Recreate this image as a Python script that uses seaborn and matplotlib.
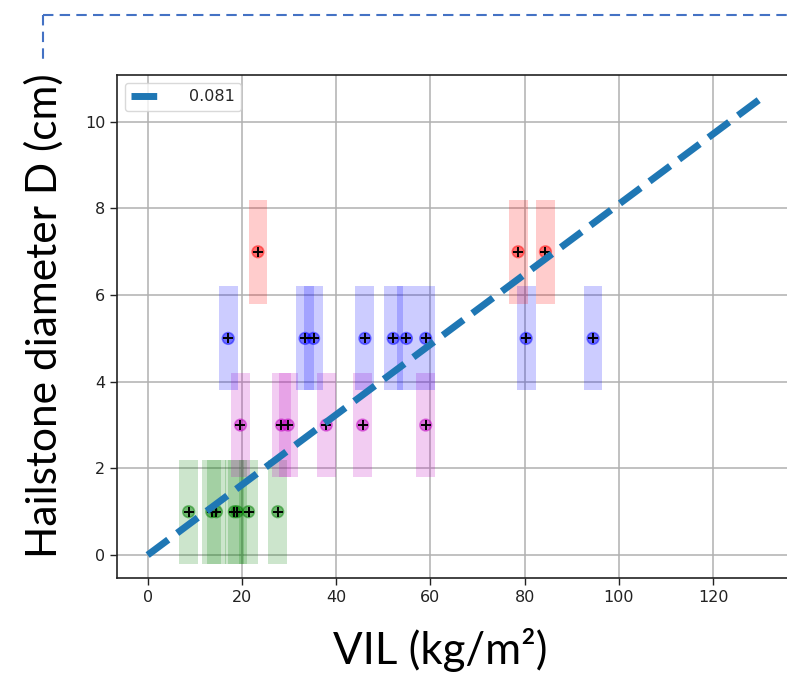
import matplotlib
matplotlib.use("Agg")
import matplotlib.pyplot as plt
from matplotlib.lines import Line2D
import pandas as pd
import seaborn as sns

# VIL (kg/m^2) of each hail report, grouped by reported hailstone diameter (cm)
vil_d1 = [8.7, 13.6, 14.6, 18.4, 19.0, 21.4, 27.6]
vil_d3 = [19.7, 28.4, 29.8, 37.9, 45.6, 59.0]
vil_d5 = [17.1, 33.4, 35.2, 46.1, 52.1, 54.9, 59.0, 80.3, 94.5]
vil_d7 = [23.4, 78.6, 84.4]
diameters = [1, 3, 5, 7]
diameter_colors = ["#008000", "#bf00bf", "#0000ff", "#ff0000"]

# half-height of the diameter uncertainty band (cm) and band width (kg/m^2)
diameter_spread = 1.2
vil_band = 4.0

# linear fit D = slope * VIL
slope = 0.081
fit_vil = [0, 130]
fit_d = [slope * v for v in fit_vil]

x_ticks = [0, 20, 40, 60, 80, 100, 120]
y_ticks = [0, 2, 4, 6, 8, 10]

groups = [vil_d1, vil_d3, vil_d5, vil_d7]
df = pd.DataFrame(
    [(v, d) for vals, d in zip(groups, diameters) for v in vals],
    columns=["vil", "diameter"],
)
palette = dict(zip(diameters, diameter_colors))

sns.set_theme(style="ticks", color_codes=False)
plt.rcParams["font.family"] = ["DejaVu Sans"]

W, H = 787, 677
fig = plt.figure(figsize=(W / 100, H / 100), dpi=100)
fig.patch.set_facecolor("white")

ax = fig.add_axes([117 / W, 1 - 578 / H, (791 - 117) / W, (578 - 75) / H])
ax.set_facecolor("white")

# shaded uncertainty bands behind each report
for vals, d, c in zip(groups, diameters, diameter_colors):
    ax.bar(vals, height=2 * diameter_spread, bottom=d - diameter_spread,
           width=vil_band, color=c, alpha=0.2, linewidth=0, zorder=2)

# report markers: translucent dot with a black cross
sns.scatterplot(data=df, x="vil", y="diameter", hue="diameter", palette=palette,
                s=70, alpha=0.45, edgecolor="face", linewidth=1.2,
                legend=False, ax=ax, zorder=3)
sns.scatterplot(data=df, x="vil", y="diameter", color="k", marker="+",
                s=45, linewidth=1.4, legend=False, ax=ax, zorder=4)

# fitted line
sns.lineplot(x=fit_vil, y=fit_d, color="#1f77b4", linewidth=5, linestyle="--",
             label=f"{slope}", ax=ax, zorder=5)

ax.set_xlim(-6.5, 136.5)
ax.set_ylim(-0.53, 11.08)
ax.set_xticks(x_ticks)
ax.set_yticks(y_ticks)
ax.tick_params(labelsize=11.5, colors="#222222", length=5, width=1.0)
ax.grid(True, color="#b0b0b0", linewidth=1.1, zorder=0)
ax.set_axisbelow(True)
for side in ["left", "bottom", "top", "right"]:
    ax.spines[side].set_color("#222222")
    ax.spines[side].set_linewidth(1.2)
ax.set_xlabel("")
ax.set_ylabel("")

leg = ax.legend(loc="upper left", fontsize=11.5, handletextpad=1.6,
                handlelength=2.0, frameon=True, fancybox=True,
                borderaxespad=0.5)
leg.get_frame().set_edgecolor("#d0d0d0")

# dashed frame around the figure panel
frame_kw = dict(color="#4472c4", linewidth=1.5, linestyle=(0, (5, 3)),
                transform=fig.transFigure)
fig.add_artist(Line2D([43 / W, 1.0], [1 - 15 / H, 1 - 15 / H], **frame_kw))
fig.add_artist(Line2D([43 / W, 43 / W], [1 - 15 / H, 1 - 64 / H], **frame_kw))

label_font = ["Lato", "DejaVu Sans"]
fig.text(44 / W, 1 - 316 / H, "Hailstone diameter D (cm)", rotation=90,
         ha="center", va="center", fontsize=30.5, family=label_font,
         color="black")
fig.text(440 / W, 1 - 650 / H, "VIL (kg/m²)", ha="center", va="center",
         fontsize=31.5, family=label_font, color="black")

fig.savefig("out.png", dpi=100, facecolor="white")
